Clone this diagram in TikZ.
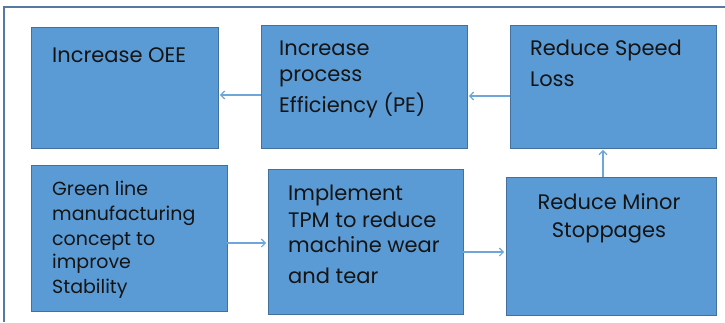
\documentclass[tikz,border=0pt]{standalone}
\usepackage{fontspec}
\setmainfont{Poppins}
\usetikzlibrary{arrows.meta}
\definecolor{boxfill}{HTML}{5B9BD5}
\definecolor{boxedge}{HTML}{41719C}
\definecolor{arr}{HTML}{6EA6DA}
\definecolor{framec}{HTML}{5579A0}
\definecolor{txt}{HTML}{141414}
\begin{document}
\begin{tikzpicture}[x=1pt,y=-1pt,
  box/.style={draw=boxedge, fill=boxfill, line width=0.9pt, inner sep=0pt},
  ln/.style={anchor=base west, inner sep=0pt, text=txt, font=\fontsize{21}{21}\selectfont},
  lnsmall/.style={ln, font=\fontsize{19}{19}\selectfont},
  lnc/.style={ln, anchor=base},
  conn/.style={draw=arr, line width=1.1pt, shorten >=1.5pt, -{Straight Barb[length=4pt,width=8pt]}}]
\useasboundingbox (0,0) rectangle (725,322);
\fill[white] (0,0) rectangle (725,322);
\draw[framec, line width=1.1pt] (4,322) -- (4,7) -- (725,7);
% boxes
\node[box, minimum width=187pt, minimum height=121pt] (b1) at (124.5,87.5) {};
\node[box, minimum width=206pt, minimum height=123pt] (b2) at (364,86.5) {};
\node[box, minimum width=206pt, minimum height=123pt] (b3) at (613,86.5) {};
\node[box, minimum width=196pt, minimum height=146pt] (b4) at (129,238) {};
\node[box, minimum width=195pt, minimum height=145pt] (b5) at (365.5,241.5) {};
\node[box, minimum width=210pt, minimum height=138pt] (b6) at (611,246) {};
% texts
\node[ln] (t1) at (52,62) {Increase OEE};
\node[ln] (t2a) at (279,55) {Increase};
\node[ln] (t2b) at (279,81) {process};
\node[ln] (t2c) at (279,112) {Efficiency (PE)};
\node[ln] (t3a) at (530,55) {Reduce Speed};
\node[ln] (t3b) at (530,86) {Loss};
\node[lnsmall] (t4a) at (52,195) {Green line};
\node[lnsmall] (t4b) at (52,220) {manufacturing};
\node[lnsmall] (t4c) at (52,245) {concept to};
\node[lnsmall] (t4d) at (52,268) {improve};
\node[lnsmall] (t4e) at (52,293) {Stability};
\node[ln] (t5a) at (288,200) {Implement};
\node[ln] (t5b) at (288,227) {TPM to reduce};
\node[ln] (t5c) at (288,252) {machine wear};
\node[ln] (t5d) at (288,283) {and tear};
\node[lnc] (t6a) at (609,209) {Reduce Minor};
\node[lnc] (t6b) at (609,237) {Stoppages};
% connector guide coordinates
\coordinate (ya) at (0,95);
\coordinate (yb) at (0,96);
\coordinate (yc) at (0,243);
\coordinate (yd) at (0,252);
\coordinate (xa) at (603,0);
\draw[conn] (b2.west |- ya) -- (b1.east |- ya);
\draw[conn] (b3.west |- yb) -- (b2.east |- yb);
\draw[conn] (b6.north -| xa) -- (b3.south -| xa);
\draw[conn] (b4.east |- yc) -- (b5.west |- yc);
\draw[conn] (b5.east |- yd) -- (b6.west |- yd);
\end{tikzpicture}
\end{document}
